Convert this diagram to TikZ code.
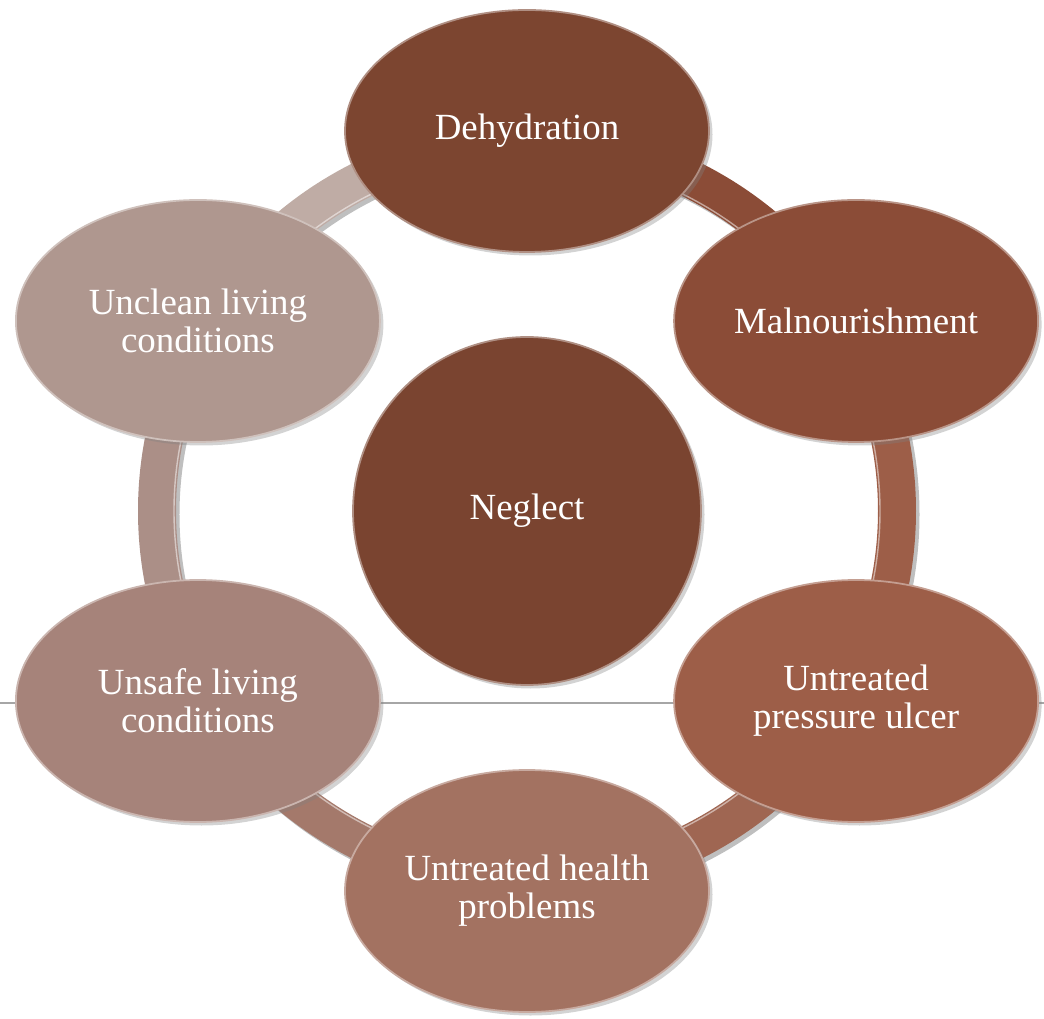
\documentclass[tikz,border=0pt]{standalone}
\usepackage{fontspec}
\setmainfont{Liberation Serif}
\usetikzlibrary{shapes.geometric,shadows}

\definecolor{negbrown}{HTML}{7A4430}
\definecolor{dehydbrown}{HTML}{7C4530}
\definecolor{malbrown}{HTML}{8B4C37}
\definecolor{ulcerbrown}{HTML}{9D5E48}
\definecolor{healthbrown}{HTML}{A37261}
\definecolor{unsafebrown}{HTML}{A6837A}
\definecolor{uncleanbrown}{HTML}{AF978F}

\begin{document}
\begin{tikzpicture}[
  topic/.style={ellipse, minimum width=7.28cm, minimum height=4.84cm, inner sep=0pt, align=center,
    text=white, font=\fontsize{21}{21.6}\selectfont, line width=1pt,
    drop shadow={opacity=0.35, shadow xshift=0.07cm, shadow yshift=-0.07cm}},
  hub/.style={topic, circle, minimum size=6.96cm},
  ringpart/.style={line width=0.5pt}
]
  \useasboundingbox (-10.54,-10.14) rectangle (10.34,10.22);

  % thin rule behind the cycle
  \draw[gray!70, line width=0.8pt] (-10.54,-3.84) -- (10.34,-3.84);

  % ring: shadow, then one sector per pair of neighbours
  \fill[black, opacity=0.25, even odd rule] (0.07,-0.07) circle (7.78) (0.07,-0.07) circle (7.02);
  \foreach \a/\b/\c in {30/90/malbrown, -30/30/ulcerbrown, -90/-30/ulcerbrown!60!healthbrown,
                        -150/-90/healthbrown!60!unsafebrown, 150/210/unsafebrown!40!uncleanbrown, 90/150/uncleanbrown!80!white}
    \fill[\c] (\a:7.78) arc[start angle=\a, end angle=\b, radius=7.78]
      -- (\b:7.02) arc[start angle=\b, end angle=\a, radius=7.02] -- cycle;
  \draw[white, opacity=0.5, line width=0.8pt] (0,0) circle (7.06);

  % the six consequences round the centre
  \node[topic, fill=dehydbrown, draw=dehydbrown!60!white] (dehyd) at (90:7.6) {Dehydration};
  \node[topic, fill=malbrown, draw=malbrown!60!white] (malnut) at (30:7.6) {Malnourishment};
  \node[topic, fill=ulcerbrown, draw=ulcerbrown!60!white] (ulcer) at (-30:7.6) {Untreated\\pressure ulcer};
  \node[topic, fill=healthbrown, draw=healthbrown!60!white] (health) at (-90:7.6) {Untreated health\\problems};
  \node[topic, fill=unsafebrown, draw=unsafebrown!60!white] (unsafe) at (210:7.6) {Unsafe living\\conditions};
  \node[topic, fill=uncleanbrown, draw=uncleanbrown!60!white] (unclean) at (150:7.6) {Unclean living\\conditions};

  \node[hub, fill=negbrown, draw=negbrown!60!white] (neglect) at (0,0) {Neglect};
\end{tikzpicture}
\end{document}
